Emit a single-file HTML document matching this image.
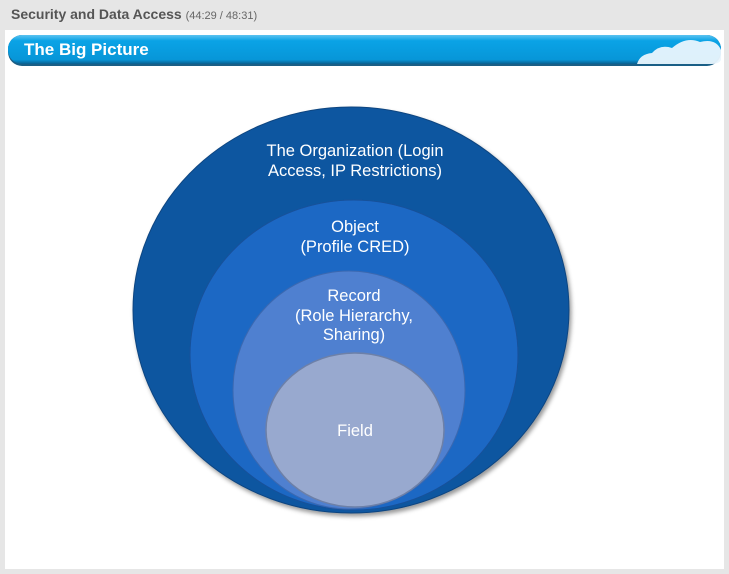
<!DOCTYPE html>
<html><head><style>
body{margin:0;width:729px;height:574px;background:#e6e6e6;font-family:"Liberation Sans",Arial,sans-serif;position:relative;overflow:hidden}
.t{position:absolute;left:11px;top:6px;font-size:14px;font-weight:bold;color:#555}
.t span{font-size:11px;font-weight:normal;color:#666}
.panel{position:absolute;left:5px;top:30px;width:719px;height:539px;background:#fff}
</style></head><body>
<div class="t">Security and Data Access <span>(44:29 / 48:31)</span></div>
<div class="panel"></div>
<svg width="729" height="574" style="position:absolute;left:0;top:0">
<defs>
<linearGradient id="bn" x1="0" y1="0" x2="0" y2="1"><stop offset="0" stop-color="#5cc3f0"/><stop offset="0.2" stop-color="#0aa3e6"/><stop offset="0.85" stop-color="#0796d8"/><stop offset="1" stop-color="#0a5f8f"/></linearGradient>
<filter id="sh" x="-10%" y="-10%" width="120%" height="120%"><feDropShadow dx="2" dy="3" stdDeviation="2" flood-opacity="0.4"/></filter>
</defs>
<rect x="8" y="35" width="713" height="31" rx="14" fill="#1a5f86"/>
<rect x="8" y="35" width="713" height="29" rx="14" fill="url(#bn)"/>
<path d="M637 64 Q640 54 652 53 Q660 44 672 48 Q686 36 700 42 Q716 38 721 50 L721 60 Q719 64 712 64 Z" fill="#eaf6fd" opacity="0.95"/>
<text x="24" y="55" font-size="17" font-weight="bold" fill="#fff" font-family="Liberation Sans,Arial,sans-serif">The Big Picture</text>
<g filter="url(#sh)">
<ellipse cx="351" cy="310" rx="218" ry="203" fill="#0f56a0" stroke="#0b4580" stroke-width="1"/>
<ellipse cx="354" cy="355" rx="164" ry="155" fill="#1f67c4" stroke="#16519a"/>
<ellipse cx="349" cy="390" rx="116" ry="119" fill="#5080d0" stroke="#3b68b0"/>
<ellipse cx="355" cy="430" rx="89" ry="77" fill="#98a9cf" stroke="#6d80a8" stroke-width="1.5"/>
</g>
<g fill="#fff" font-size="16.5" font-family="Liberation Sans,Arial,sans-serif" text-anchor="middle">
<text x="355" y="156">The Organization (Login</text>
<text x="355" y="176">Access, IP Restrictions)</text>
<text x="355" y="232">Object</text>
<text x="355" y="252">(Profile CRED)</text>
<text x="354" y="301">Record</text>
<text x="354" y="321">(Role Hierarchy,</text>
<text x="354" y="340">Sharing)</text>
<text x="355" y="436">Field</text>
</g>
</svg>
</body></html>
